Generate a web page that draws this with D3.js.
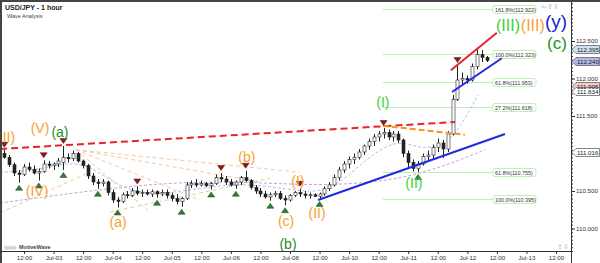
<!DOCTYPE html>
<html>
<head>
<meta charset="utf-8">
<style>
  body { margin: 0; background: #fff; }
  svg { display: block; font-family: Arial, 'Liberation Sans', sans-serif; }
  .x .tick text { font-size: 6.2px; fill: #333; }
  .y .tick text { font-size: 6.2px; fill: #333; }
  .tick line { stroke: #333; }
  .domain { display: none; }
  .fib-text { font-size: 5.4px; fill: #333; }
  .tag-text { font-size: 6.2px; fill: #222; }
</style>
</head>
<body>
<svg width="600" height="263"></svg>
<script src="https://cdn.jsdelivr.net/npm/d3@7/dist/d3.min.js"></script>
<script>
// hour 0 = Jul-02 12:00, 2-hour candles from hour -8
let firstHour = -8
let barStep = 2

// [open, high, low, close]
let ohlc = [
  [111.00,111.05,110.93,110.95],[110.95,110.98,110.82,110.85],[110.85,110.88,110.70,110.74],[110.74,110.78,110.61,110.72],
  [110.72,110.86,110.70,110.82],[110.82,110.88,110.76,110.79],[110.79,110.84,110.72,110.74],[110.74,110.80,110.64,110.76],
  [110.76,110.91,110.74,110.86],[110.86,110.90,110.80,110.84],[110.84,110.88,110.78,110.86],[110.86,110.94,110.82,110.90],
  [110.88,111.10,110.78,110.95],[110.95,111.00,110.88,110.93],[110.93,111.04,110.90,111.00],[111.00,111.02,110.88,110.90],
  [110.90,110.92,110.80,110.84],[110.84,110.86,110.66,110.70],[110.70,110.74,110.58,110.62],[110.62,110.66,110.53,110.60],
  [110.60,110.66,110.56,110.62],[110.62,110.64,110.44,110.48],[110.48,110.52,110.34,110.38],[110.38,110.42,110.28,110.36],
  [110.36,110.48,110.34,110.45],[110.45,110.50,110.40,110.44],[110.44,110.54,110.42,110.50],[110.50,110.56,110.44,110.47],
  [110.47,110.52,110.42,110.48],[110.48,110.52,110.44,110.46],[110.46,110.52,110.42,110.49],[110.49,110.51,110.41,110.46],
  [110.46,110.52,110.43,110.48],[110.48,110.52,110.40,110.44],[110.44,110.48,110.36,110.40],[110.40,110.46,110.32,110.36],
  [110.36,110.42,110.29,110.40],[110.40,110.62,110.38,110.58],[110.58,110.64,110.54,110.60],[110.60,110.66,110.55,110.58],
  [110.58,110.64,110.56,110.60],[110.60,110.62,110.55,110.57],[110.57,110.62,110.52,110.60],[110.60,110.72,110.58,110.68],
  [110.68,110.74,110.62,110.66],[110.66,110.70,110.58,110.62],[110.62,110.66,110.56,110.58],[110.58,110.64,110.53,110.62],
  [110.62,110.70,110.58,110.68],[110.68,110.77,110.62,110.64],[110.64,110.66,110.52,110.55],[110.55,110.58,110.46,110.50],
  [110.50,110.54,110.42,110.46],[110.46,110.50,110.40,110.42],[110.42,110.48,110.37,110.45],[110.45,110.50,110.42,110.47],
  [110.47,110.50,110.38,110.40],[110.40,110.44,110.31,110.38],[110.38,110.46,110.36,110.44],[110.44,110.50,110.42,110.48],
  [110.48,110.53,110.42,110.46],[110.46,110.50,110.40,110.44],[110.44,110.48,110.40,110.45],[110.45,110.47,110.42,110.43],
  [110.43,110.48,110.395,110.46],[110.46,110.56,110.44,110.53],[110.53,110.62,110.50,110.58],[110.58,110.72,110.56,110.68],
  [110.68,110.82,110.64,110.78],[110.78,110.90,110.74,110.86],[110.86,110.96,110.80,110.92],[110.92,111.00,110.86,110.95],
  [110.95,111.06,110.92,111.02],[111.02,111.12,110.98,111.10],[111.10,111.20,111.05,111.16],[111.16,111.26,111.10,111.22],
  [111.22,111.30,111.16,111.26],[111.26,111.34,111.20,111.28],[111.28,111.32,111.18,111.22],[111.22,111.30,111.16,111.26],
  [111.26,111.30,111.14,111.18],[111.18,111.20,110.95,111.00],[111.00,111.04,110.82,110.88],[110.88,110.92,110.76,110.80],
  [110.80,110.90,110.755,110.86],[110.86,111.00,110.84,110.96],[110.96,111.04,110.90,110.98],[110.98,111.12,110.94,111.08],
  [111.08,111.20,111.02,111.14],[111.14,111.18,110.94,111.06],[111.06,111.30,111.02,111.26],[111.26,111.78,111.24,111.72],
  [111.72,112.18,111.70,111.98],[111.98,112.08,111.92,112.00],[112.00,112.04,111.93,111.98],[111.98,112.20,111.96,112.16],
  [112.16,112.395,112.12,112.32],[112.32,112.38,112.22,112.28],[112.28,112.30,112.22,112.24]
]

let timeLabels = ["12:00","Jul-03","12:00","Jul-04","12:00","Jul-05","12:00","Jul-06","12:00","Jul-08",
  "12:00","Jul-10","12:00","Jul-11","12:00","Jul-12","12:00","Jul-13","12:00"]
// 111.000 sits under the 111.016 tag in the original, so it is left out
let yTicks = [110.0, 110.5, 111.5, 112.0, 112.5]

// swing markers (candle index)
let highMarks = [0, 8, 12, 27, 44, 49, 60, 77, 92]
let lowMarks = [3, 7, 12, 19, 23, 31, 36, 42, 47, 54, 57, 64, 84]

// fibonacci levels
let fibValues = [112.922, 112.323, 111.953, 111.618, 110.755, 110.395]
let fibLabels = ["161.8%(112.922)", "100.0%(112.323)", "61.8%(111.953)", "27.2%(111.618)", "61.8%(110.755)", "100.0%(110.395)"]
let fibStartHour = 145.7
let fibEndHour = 190.4

// price tags on right axis
let tagValues = [112.395, 112.240, 111.905, 111.834, 111.016]
let tagFills = ["#cfe0f2", "#b4b6ea", "#f4c9c9", "#ffffff", "#ffffff"]

// wave labels: [text, hour, price, color, size]
let waveLabels = [
  ["(II)", -7.1, 111.15, "#f7a12f", 14],
  ["(V)", 6.5, 111.27, "#f7a12f", 14],
  ["(a)", 14.6, 111.22, "#1d8f1d", 14],
  ["(IV)", 5.3, 110.43, "#f7a12f", 14],
  ["(a)", 38.2, 110.02, "#f7a12f", 14],
  ["(b)", 90.5, 110.89, "#f7a12f", 14],
  ["(I)", 111.2, 110.57, "#f7a12f", 14],
  ["(c)", 106.4, 110.03, "#f7a12f", 14],
  ["(b)", 107.2, 109.73, "#1d8f1d", 14],
  ["(II)", 119, 110.14, "#f7a12f", 14],
  ["(I)", 145.7, 111.62, "#35d335", 14],
  ["(II)", 158.3, 110.54, "#35d335", 14],
  ["(III)", 196.5, 112.63, "#35d335", 16],
  ["(III)", 206.6, 112.63, "#f7a12f", 16],
  ["(y)", 216, 112.68, "#1f1fcf", 19],
  ["(c)", 216.4, 112.40, "#1d8f1d", 17]
]

// trend lines: [[hour, price], [hour, price], color, width, dash]
let trendLines = [
  [[-9.7, 111.06], [175, 111.42], "#e8242a", 2, "7,4"],
  [[145.7, 111.37], [179, 111.25], "#f7941d", 2, "6,3"],
  [[119.4, 110.38], [195.3, 111.26], "#1f2be0", 2, null],
  [[173.8, 111.82], [194, 112.27], "#1f2be0", 2, null],
  [[173.3, 112.11], [192, 112.61], "#e8242a", 2, null]
]

// faint study lines
let blueStudy = [[-9.7,110.75],[6.5,110.78],[20.7,110.91],[30.9,110.75],[41,110.51],[55.2,110.45],[71.4,110.54],
  [91.7,110.61],[112,110.49],[124.2,110.49],[136.4,110.85],[150.6,111.21],[160.8,111.05],[170.9,111.11],[177,111.34],[184.3,111.78]]
let purpleStudy = [[-9.7,110.34],[14.6,110.45],[39,110.55],[63.3,110.62],[91.7,110.62],[120.2,110.57],[144.5,110.62],
  [160.8,110.73],[177,110.91],[187.1,111.05]]
let fanOrigin = [21.1, 111.05]
let fanEnds = [[112, 110.75], [95.8, 110.62], [71.4, 110.38], [51.2, 110.22]]
let khakiLines = [[[-9.7, 110.21], [26.8, 110.75]], [[34.9, 110.22], [99.9, 110.67]]]

let svg = d3.select("svg")
let plot = {left: 2, right: 571, top: 3, bottom: 251}

let x = d3.scaleLinear().domain([0, 216]).range([24, 556])
let y = d3.scaleLinear().domain([110, 112.5]).range([228.5, 41])
let barX = i => x(firstHour + barStep * i)

svg.append("defs").append("clipPath").attr("id", "plotclip")
  .append("rect")
  .attr("x", plot.left).attr("y", plot.top)
  .attr("width", plot.right - plot.left).attr("height", plot.bottom - plot.top)

let g = svg.append("g").attr("clip-path", "url(#plotclip)")

// fib lines
let fib = g.append("g")
fib.selectAll("line").data(fibValues).join("line")
  .attr("x1", x(fibStartHour)).attr("x2", x(fibEndHour))
  .attr("y1", d => Math.round(y(d)) + 0.5).attr("y2", d => Math.round(y(d)) + 0.5)
  .attr("stroke", "#bdf0b4").attr("stroke-width", 1)
fib.selectAll("rect").data(fibValues).join("rect")
  .attr("x", x(fibEndHour)).attr("y", d => Math.round(y(d)) - 3.5)
  .attr("width", 43).attr("height", 8).attr("rx", 2)
  .attr("fill", "#fff").attr("stroke", "#bdf0b4")
fib.selectAll("text").data(fibLabels).join("text")
  .attr("class", "fib-text")
  .attr("x", x(fibEndHour) + 2).attr("y", (d, i) => Math.round(y(fibValues[i])) + 2.5)
  .text(d => d)

// faint studies
let line = d3.line().x(d => x(d[0])).y(d => y(d[1]))
let smooth = d3.line().x(d => x(d[0])).y(d => y(d[1])).curve(d3.curveBasis)
g.append("path").attr("d", smooth(blueStudy)).attr("fill", "none")
  .attr("stroke", "#a9c4ee").attr("stroke-width", 1).attr("stroke-dasharray", "3,2")
g.append("path").attr("d", smooth(purpleStudy)).attr("fill", "none")
  .attr("stroke", "#c9a2dc").attr("stroke-width", 1).attr("stroke-dasharray", "3,2")
g.selectAll(".fan").data(fanEnds).join("path").attr("class", "fan")
  .attr("d", d => line([fanOrigin, d])).attr("fill", "none")
  .attr("stroke", "#f9c9a0").attr("stroke-width", 1).attr("stroke-dasharray", "4,3")
g.selectAll(".khaki").data(khakiLines).join("path").attr("class", "khaki")
  .attr("d", d => line(d)).attr("fill", "none")
  .attr("stroke", "#d9d3a6").attr("stroke-width", 1).attr("stroke-dasharray", "4,3")

// candles
let candles = g.append("g")
candles.selectAll("line").data(ohlc).join("line")
  .attr("x1", (d, i) => Math.round(barX(i)) + 0.5).attr("x2", (d, i) => Math.round(barX(i)) + 0.5)
  .attr("y1", d => y(d[1])).attr("y2", d => y(d[2]))
  .attr("stroke", "#222").attr("stroke-width", 1)
candles.selectAll("rect").data(ohlc).join("rect")
  .attr("x", (d, i) => Math.round(barX(i)) - 1)
  .attr("y", d => y(Math.max(d[0], d[3])))
  .attr("width", 3)
  .attr("height", d => Math.max(1, Math.abs(y(d[0]) - y(d[3]))))
  .attr("fill", d => d[3] >= d[0] ? "#fff" : "#222")
  .attr("stroke", "#222").attr("stroke-width", 0.6)

// trend lines
g.selectAll(".trend").data(trendLines).join("path").attr("class", "trend")
  .attr("d", d => line([d[0], d[1]])).attr("fill", "none")
  .attr("stroke", d => d[2]).attr("stroke-width", d => d[3])
  .attr("stroke-dasharray", d => d[4])

// swing markers
g.selectAll(".hi").data(highMarks).join("path").attr("class", "hi")
  .attr("transform", i => `translate(${barX(i)},${y(ohlc[i][1]) - 5})`)
  .attr("d", "M-3.5,-2.5L3.5,-2.5L0,2.5Z")
  .attr("fill", "#8b1a1a").attr("stroke", "#5a0e0e").attr("stroke-width", 0.5)
g.selectAll(".lo").data(lowMarks).join("path").attr("class", "lo")
  .attr("transform", i => `translate(${barX(i)},${y(ohlc[i][2]) + 5})`)
  .attr("d", "M-3.5,2.5L3.5,2.5L0,-2.5Z")
  .attr("fill", "#2e7d32").attr("stroke", "#1b4d1e").attr("stroke-width", 0.5)

// wave labels
g.selectAll(".wave").data(waveLabels).join("text").attr("class", "wave")
  .attr("x", d => x(d[1])).attr("y", d => y(d[2]))
  .attr("text-anchor", "middle")
  .attr("font-size", d => d[4] + "px")
  .attr("fill", d => d[3])
  .text(d => d[0])

// frame
svg.append("line").attr("x1", 0).attr("x2", 600).attr("y1", 1).attr("y2", 1)
  .attr("stroke", "#444").attr("stroke-width", 2)
svg.append("line").attr("x1", 1).attr("x2", 1).attr("y1", 0).attr("y2", 263)
  .attr("stroke", "#444").attr("stroke-width", 2)
svg.append("line").attr("x1", 0).attr("x2", plot.right).attr("y1", plot.bottom + 0.5).attr("y2", plot.bottom + 0.5)
  .attr("stroke", "#333")
svg.append("line").attr("x1", plot.right + 0.5).attr("x2", plot.right + 0.5).attr("y1", 2).attr("y2", 263)
  .attr("stroke", "#333")

// axes
let xAxis = d3.axisBottom(x)
  .tickValues(d3.range(0, 217, 12))
  .tickSize(3).tickPadding(2)
  .tickFormat((d, i) => timeLabels[i])
svg.append("g").attr("class", "x axis")
  .attr("transform", `translate(0,${plot.bottom})`)
  .call(xAxis)

let minorTicks = d3.range(109.7, 113.05, 0.05).filter(v => y(v) > plot.top && y(v) < plot.bottom)
svg.append("g").attr("class", "y minor")
  .attr("transform", `translate(${plot.right},0)`)
  .call(d3.axisRight(y).tickValues(minorTicks).tickSize(2).tickFormat(""))
svg.append("g").attr("class", "y axis")
  .attr("transform", `translate(${plot.right},0)`)
  .call(d3.axisRight(y).tickValues(yTicks).tickSize(4).tickPadding(1).tickFormat(d3.format(".3f")))

// price tags
let tags = svg.append("g")
tags.selectAll("path").data(tagValues).join("path")
  .attr("d", d => {
    let c = Math.round(y(d)) + 0.5
    return `M${plot.right + 1},${c}L${plot.right + 5},${c - 4}L599.5,${c - 4}L599.5,${c + 4}L${plot.right + 5},${c + 4}Z`
  })
  .attr("fill", (d, i) => tagFills[i]).attr("stroke", "#555").attr("stroke-width", 0.7)
tags.selectAll("text").data(tagValues).join("text")
  .attr("class", "tag-text")
  .attr("x", plot.right + 6).attr("y", d => Math.round(y(d)) + 2.8)
  .text(d => d3.format(".3f")(d))

// titles and logos
svg.append("text").attr("x", 5).attr("y", 10).attr("font-size", "7px").attr("font-weight", "bold")
  .attr("fill", "#222").text("USD/JPY - 1 hour")
svg.append("text").attr("x", 7).attr("y", 17.5).attr("font-size", "5.5px")
  .attr("fill", "#444").text("Wave Analysis")
svg.append("text").attr("x", 4).attr("y", 248.5).attr("font-size", "5px")
  .attr("fill", "#888").text("◎◎◎")
svg.append("text").attr("x", 19).attr("y", 248.5).attr("font-size", "5.5px").attr("font-weight", "bold")
  .attr("fill", "#444").text("MotiveWave")
svg.append("text").attr("x", 541).attr("y", 8.5).attr("font-size", "7px")
  .attr("fill", "#aaa").text("⇦⇧⇩")
svg.append("text").attr("x", 557).attr("y", 249).attr("font-size", "7px")
  .attr("fill", "#aaa").text("⇧⇩")
</script>
</body>
</html>
